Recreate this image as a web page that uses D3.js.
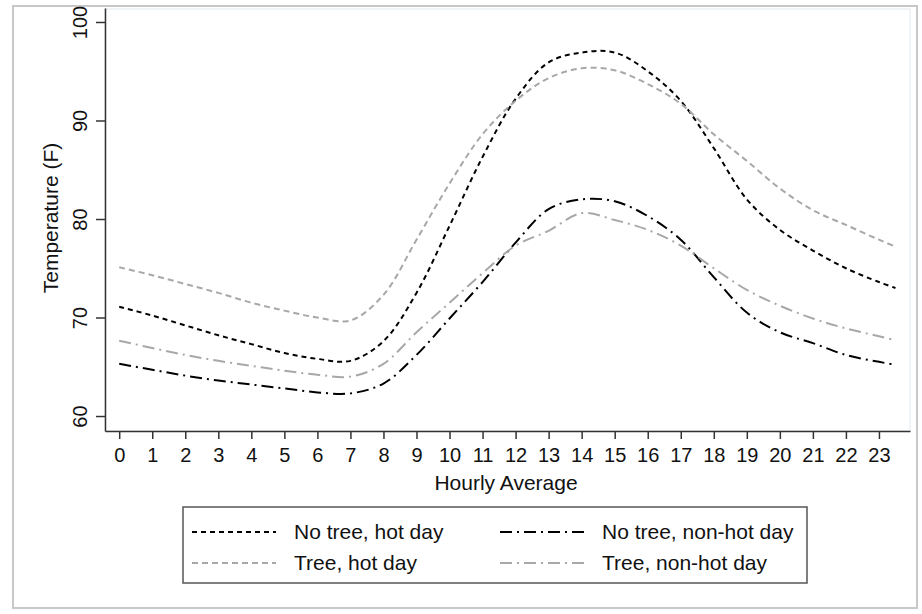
<!DOCTYPE html>
<html lang="en">
    <head>
        <meta charset="utf-8">
        <title>Hourly Temperature</title>
        <script type="text/javascript" src="https://d3js.org/d3.v7.min.js"></script>
        <style type="text/css">
            body { margin: 0; background: #fff; }
            text { font-family: "Liberation Sans", Arial, sans-serif; fill: #111; }
        </style>
    </head>
    <body>
        <script type="text/javascript">

            const width = 922;
            const height = 614;

            const hours = [0, 1, 2, 3, 4, 5, 6, 7, 8, 9, 10, 11, 12, 13, 14, 15, 16, 17, 18, 19, 20, 21, 22, 23, 23.5];

            const noTreeHot    = [71.1, 70.2, 69.2, 68.2, 67.3, 66.4, 65.8, 65.6, 67.6, 72.5, 79.3, 86.3, 92.2, 95.9, 96.9, 96.9, 95.0, 92.0, 87.2, 82.0, 78.9, 76.8, 75.0, 73.6, 73.0];
            const treeHot      = [75.1, 74.3, 73.4, 72.5, 71.5, 70.7, 70.0, 69.7, 72.3, 77.9, 83.6, 88.6, 92.0, 94.3, 95.3, 95.1, 93.7, 91.7, 88.6, 85.9, 83.1, 80.9, 79.4, 77.9, 77.2];
            const noTreeNonHot = [65.3, 64.7, 64.1, 63.6, 63.2, 62.8, 62.4, 62.3, 63.3, 66.2, 69.9, 73.6, 77.6, 81.0, 82.0, 81.8, 80.3, 77.9, 74.1, 70.5, 68.5, 67.4, 66.2, 65.5, 65.2];
            const treeNonHot   = [67.65, 66.9, 66.2, 65.6, 65.1, 64.6, 64.2, 64.0, 65.3, 68.5, 71.5, 74.5, 77.3, 78.8, 80.6, 79.9, 78.9, 77.3, 75.0, 72.8, 71.2, 69.9, 68.9, 68.1, 67.7];

            const seriesNames = ["No tree, hot day", "Tree, hot day", "No tree, non-hot day", "Tree, non-hot day"];
            const xTicks = d3.range(0, 24);
            const yTicks = [60, 70, 80, 90, 100];

            const series = [
                {name: seriesNames[0], values: noTreeHot,    color: "#000000", dash: "5,4"},
                {name: seriesNames[1], values: treeHot,      color: "#a8a8a8", dash: "6,4"},
                {name: seriesNames[2], values: noTreeNonHot, color: "#000000", dash: "12,5,2,5"},
                {name: seriesNames[3], values: treeNonHot,   color: "#a8a8a8", dash: "12,5,2,5"}
            ];

            const xScale = d3.scaleLinear()
                            .domain([-0.43, 23.94])
                            .range([105, 910]);

            const yScale = d3.scaleLinear()
                            .domain([58.48, 101.42])
                            .range([431, 8]);

            const svg = d3.select("body")
                        .append("svg")
                        .attr("width", width)
                        .attr("height", height);

            // outer frame and plot region
            svg.append("rect")
                .attr("x", 13).attr("y", 6)
                .attr("width", 904).attr("height", 602)
                .attr("fill", "#fff")
                .attr("stroke", "#c8c8c8")
                .attr("stroke-width", 2);

            svg.append("rect")
                .attr("x", 105).attr("y", 9)
                .attr("width", 805).attr("height", 422)
                .attr("fill", "#fff")
                .attr("stroke", "#e4eaee")
                .attr("stroke-width", 1);

            const line = d3.line()
                        .x((d, i) => xScale(hours[i]))
                        .y(d => yScale(d))
                        .curve(d3.curveCatmullRom.alpha(0.5));

            svg.selectAll("path.series")
                .data(series)
                .enter()
                .append("path")
                .attr("class", "series")
                .attr("d", d => line(d.values))
                .attr("fill", "none")
                .attr("stroke", d => d.color)
                .attr("stroke-width", 2)
                .attr("stroke-dasharray", d => d.dash);

            // axes
            const bottomAxis = d3.axisBottom(xScale)
                                .tickValues(xTicks)
                                .tickFormat(d3.format("d"))
                                .tickSize(8)
                                .tickSizeOuter(0);

            const leftAxis = d3.axisLeft(yScale)
                                .tickValues(yTicks)
                                .tickSize(9)
                                .tickSizeOuter(0);

            const gx = svg.append("g")
                .attr("transform", "translate(0," + 431 + ")")
                .call(bottomAxis);

            gx.selectAll("text")
                .attr("y", 31)
                .attr("dy", 0)
                .attr("font-size", "20px")
                .attr("fill", "#111");

            const gy = svg.append("g")
                .attr("transform", "translate(" + 105 + ",0)")
                .call(leftAxis);

            gy.selectAll("text")
                .attr("x", 0)
                .attr("y", -18)
                .attr("dy", 0)
                .attr("transform", "rotate(-90)")
                .attr("text-anchor", "middle")
                .attr("font-size", "20px")
                .attr("fill", "#111");

            svg.selectAll(".domain, .tick line")
                .attr("stroke", "#333")
                .attr("stroke-width", 1.5);

            // axis titles
            svg.append("text")
                .attr("x", 506)
                .attr("y", 490)
                .attr("text-anchor", "middle")
                .attr("font-size", "21px")
                .text("Hourly Average");

            svg.append("text")
                .attr("transform", "translate(58,218) rotate(-90)")
                .attr("text-anchor", "middle")
                .attr("font-size", "21px")
                .text("Temperature (F)");

            // legend
            svg.append("rect")
                .attr("x", 183).attr("y", 507)
                .attr("width", 624).attr("height", 76)
                .attr("fill", "#fff")
                .attr("stroke", "#555")
                .attr("stroke-width", 1.5);

            const legendPos = [
                {x1: 192, x2: 276, tx: 294, y: 532},
                {x1: 192, x2: 276, tx: 294, y: 563},
                {x1: 500, x2: 586, tx: 602, y: 532},
                {x1: 500, x2: 586, tx: 602, y: 563}
            ];

            const legend = svg.selectAll("g.legend")
                .data(series)
                .enter()
                .append("g")
                .attr("class", "legend");

            legend.append("line")
                .attr("x1", (d, i) => legendPos[i].x1)
                .attr("x2", (d, i) => legendPos[i].x2)
                .attr("y1", (d, i) => legendPos[i].y)
                .attr("y2", (d, i) => legendPos[i].y)
                .attr("stroke", d => d.color)
                .attr("stroke-width", 2)
                .attr("stroke-dasharray", d => d.dash);

            legend.append("text")
                .attr("x", (d, i) => legendPos[i].tx)
                .attr("y", (d, i) => legendPos[i].y + 7)
                .attr("font-size", "21px")
                .text(d => d.name);

        </script>
    </body>
</html>
